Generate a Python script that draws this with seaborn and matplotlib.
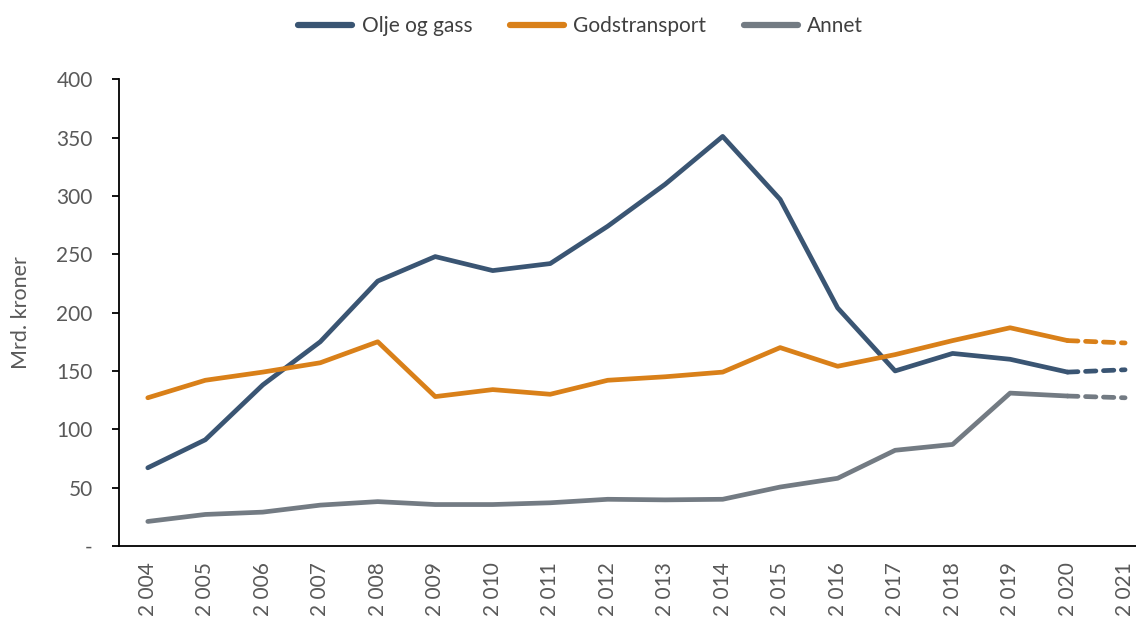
import numpy as np
import pandas as pd
import matplotlib.pyplot as plt
import seaborn as sns

years = [2004, 2005, 2006, 2007, 2008, 2009, 2010, 2011, 2012, 2013,
         2014, 2015, 2016, 2017, 2018, 2019, 2020, 2021]
year_labels = ["2 " + str(y)[1:] for y in years]
olje = [67, 91, 138, 175, 227, 248, 236, 242, 274, 310,
        351, 297, 204, 150, 165, 160, 149, 151]
gods = [127, 142, 149, 157, 175, 128, 134, 130, 142, 145,
        149, 170, 154, 164, 176, 187, 176, 174]
annet = [21, 27, 29, 35, 38, 35.5, 35.5, 37, 40, 39.5,
         40, 50.5, 58, 82, 87, 131, 128.5, 127]
series = ["Olje og gass", "Godstransport", "Annet"]
colors = ["#3a5573", "#d98019", "#737b83"]
last_actual = 2020

sns.set_theme(style="white")
plt.rcParams['font.family'] = ['Lato', 'DejaVu Sans']

df = pd.DataFrame({"År": years, series[0]: olje, series[1]: gods, series[2]: annet})
df["pos"] = np.arange(len(df))
long = df.melt(id_vars=["År", "pos"], value_vars=series, var_name="Serie", value_name="Verdi")
solid = long[long["År"] <= last_actual]
dashed = long[long["År"] >= last_actual]
palette = dict(zip(series, colors))

fig = plt.figure(figsize=(11.36, 6.19), dpi=100)
ax = fig.add_axes([0.1048, 0.118, 0.8952, 0.754])

sns.lineplot(data=solid, x="pos", y="Verdi", hue="Serie", palette=palette,
             linewidth=3.4, ax=ax, solid_capstyle="round")
n_solid = len(ax.lines)
sns.lineplot(data=dashed, x="pos", y="Verdi", hue="Serie", palette=palette,
             linewidth=3.4, ax=ax, legend=False)
for line in ax.lines[n_solid:]:
    line.set_linestyle((0, (2.2, 1.6)))
    line.set_dash_capstyle("round")

ax.set_ylim(0, 400)
ax.set_yticks(range(0, 401, 50))
ax.set_yticklabels(["-"] + [str(v) for v in range(50, 401, 50)])
ax.set_xlim(-0.5, 17.19)
ax.set_xticks(df["pos"])
ax.set_xticklabels(year_labels, rotation=90)
ax.set_xlabel("")
ax.set_ylabel("Mrd. kroner", fontsize=15.5, color="#595959")
ax.yaxis.set_label_coords(-0.087, 0.5)

ax.tick_params(axis="y", left=True, length=5, width=1.3, color="black",
               labelsize=15, labelcolor="#595959", pad=14)
ax.tick_params(axis="x", bottom=False, labelsize=15, labelcolor="#595959", pad=6)
sns.despine(ax=ax, top=True, right=True)
for s in ["left", "bottom"]:
    ax.spines[s].set_color("black")
    ax.spines[s].set_linewidth(1.3)

ax.legend(loc="upper center", bbox_to_anchor=(0.454, 1.175), ncol=3, frameon=False,
          fontsize=15, handlelength=2.6, handletextpad=0.45, columnspacing=1.8,
          labelcolor="#404040")
for h in ax.get_legend().get_lines():
    h.set_linestyle("-")
    h.set_linewidth(4.5)
    h.set_solid_capstyle("round")

fig.savefig("out.png", dpi=100)
